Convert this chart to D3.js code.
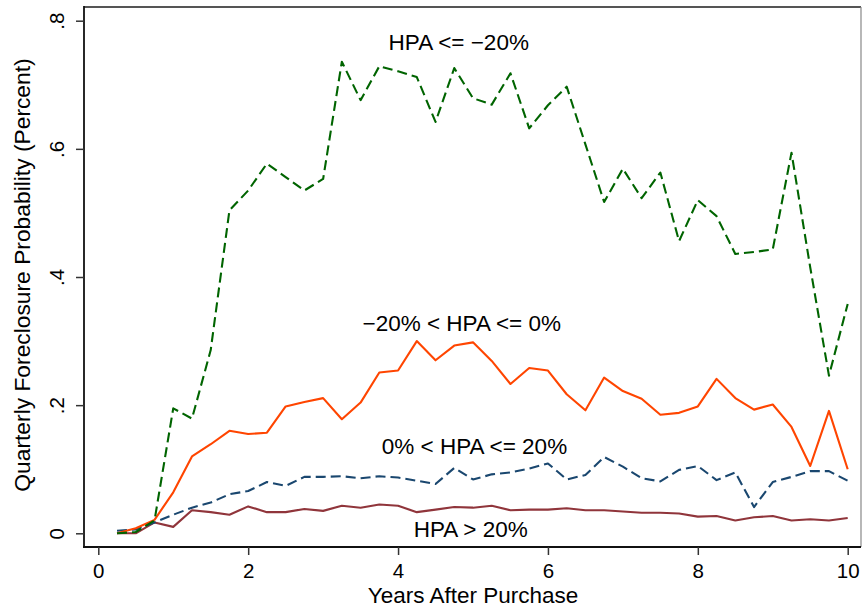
<!DOCTYPE html>
<html><head><meta charset="utf-8">
<script src="https://cdn.jsdelivr.net/npm/d3@7"></script>
<style>body{margin:0;background:#fff}svg{display:block}text{font-family:"Liberation Sans",Arial,sans-serif;fill:#000}</style>
</head><body><div id="chart"></div>
<script>
const years = d3.range(1, 41).map(q => q / 4);
const hpaLeMinus20 = [0.0,0.002,0.02,0.195,0.179,0.286,0.504,0.535,0.577,0.556,0.535,0.553,0.736,0.676,0.729,0.721,0.712,0.642,0.726,0.679,0.669,0.718,0.632,0.668,0.697,0.607,0.517,0.569,0.523,0.563,0.456,0.520,0.495,0.436,0.439,0.443,0.594,0.415,0.246,0.358];
const hpaMinus20To0 = [0.0,0.008,0.021,0.064,0.12,0.139,0.160,0.155,0.157,0.198,0.205,0.211,0.178,0.204,0.251,0.254,0.300,0.270,0.293,0.298,0.269,0.233,0.258,0.254,0.217,0.192,0.243,0.222,0.210,0.185,0.188,0.198,0.241,0.211,0.193,0.201,0.166,0.105,0.191,0.100];
const hpa0To20 = [0.004,0.006,0.017,0.029,0.040,0.048,0.061,0.066,0.080,0.074,0.088,0.088,0.089,0.086,0.089,0.087,0.082,0.077,0.102,0.084,0.092,0.095,0.101,0.109,0.084,0.091,0.119,0.104,0.086,0.081,0.099,0.105,0.083,0.095,0.041,0.080,0.088,0.097,0.097,0.082];
const hpaGt20 = [0.0,0.0,0.017,0.010,0.036,0.033,0.029,0.042,0.033,0.033,0.038,0.035,0.043,0.040,0.045,0.043,0.033,0.037,0.041,0.040,0.043,0.036,0.037,0.037,0.039,0.036,0.036,0.034,0.032,0.032,0.031,0.026,0.027,0.020,0.025,0.027,0.020,0.022,0.020,0.024];
const xTicks = [0, 2, 4, 6, 8, 10];
const yTicks = [0, 0.2, 0.4, 0.6, 0.8];
const yTickLabels = ["0", ".2", ".4", ".6", ".8"];
const seriesNames = ["HPA <= \u221220%", "\u221220% < HPA <= 0%", "0% < HPA <= 20%", "HPA > 20%"];
const seriesColors = ["#006400", "#ff4500", "#1a476f", "#90353b"];
const seriesDash = ["10,5", null, "10,5", null];
// label anchor [years, value] (text baseline)
const labelPos = [[4.81, 0.754], [4.85, 0.316], [5.02, 0.1237], [4.97, -0.0058]];

const W = 862, H = 608;
const svg = d3.select("#chart").append("svg").attr("width", W).attr("height", H);
const x = d3.scaleLinear().domain([0, 10]).range([98.3, 847.7]);
const y = d3.scaleLinear().domain([0, 0.8]).range([533.3, 20.7]);
const frame = {l: 84, r: 861, t: 7, b: 547};

// frame
svg.append("line").attr("x1", frame.l).attr("x2", frame.r).attr("y1", frame.t).attr("y2", frame.t).attr("stroke", "#555").attr("stroke-width", 2);
svg.append("line").attr("x1", frame.r).attr("x2", frame.r).attr("y1", frame.t).attr("y2", frame.b).attr("stroke", "#888").attr("stroke-width", 1.2);
svg.append("line").attr("x1", frame.l).attr("x2", frame.l).attr("y1", frame.t - 1).attr("y2", frame.b + 1).attr("stroke", "#111").attr("stroke-width", 1.8);
svg.append("line").attr("x1", frame.l - 1).attr("x2", frame.r).attr("y1", frame.b).attr("y2", frame.b).attr("stroke", "#111").attr("stroke-width", 1.8);

// x axis
const xAxis = d3.axisBottom(x).tickValues(xTicks).tickSize(8).tickPadding(8).tickFormat(d3.format("d"));
const gx = svg.append("g").attr("transform", `translate(0,${frame.b})`).call(xAxis);
gx.select(".domain").remove();
gx.selectAll(".tick line").attr("stroke", "#333").attr("stroke-width", 1.5);
gx.selectAll(".tick text").attr("font-size", 20.5).attr("font-family", "Liberation Sans, Arial, sans-serif").attr("dy", "0.72em").attr("fill", "#000");

// y axis
const yAxis = d3.axisLeft(y).tickValues(yTicks).tickSize(8).tickFormat((d, i) => yTickLabels[i]);
const gy = svg.append("g").attr("transform", `translate(${frame.l},0)`).call(yAxis);
gy.select(".domain").remove();
gy.selectAll(".tick line").attr("stroke", "#333").attr("stroke-width", 1.5);
gy.selectAll(".tick text").attr("font-size", 20.5).attr("font-family", "Liberation Sans, Arial, sans-serif").attr("fill", "#000")
  .attr("x", null).attr("dy", null).attr("text-anchor", "middle")
  .attr("transform", "translate(-20.5,0) rotate(-90)");

// titles
svg.append("text").attr("x", 473).attr("y", 603).attr("text-anchor", "middle").attr("font-size", 22.5).text("Years After Purchase");
svg.append("text").attr("transform", `translate(30,275) rotate(-90)`).attr("text-anchor", "middle").attr("font-size", 22.8).text("Quarterly Foreclosure Probability (Percent)");

// lines
const all = [hpaLeMinus20, hpaMinus20To0, hpa0To20, hpaGt20];
const line = d3.line().x((d, i) => x(years[i])).y(d => y(d));
const order = [3, 2, 1, 0];
order.forEach(k => {
  svg.append("path").datum(all[k]).attr("d", line).attr("fill", "none")
    .attr("stroke", seriesColors[k]).attr("stroke-width", 2.1)
    .attr("stroke-dasharray", seriesDash[k]).attr("stroke-linejoin", "round");
});

// labels
seriesNames.forEach((n, i) => {
  svg.append("text").attr("x", x(labelPos[i][0])).attr("y", y(labelPos[i][1])).attr("text-anchor", "middle").attr("font-size", 22.5).text(n);
});
</script></body></html>
